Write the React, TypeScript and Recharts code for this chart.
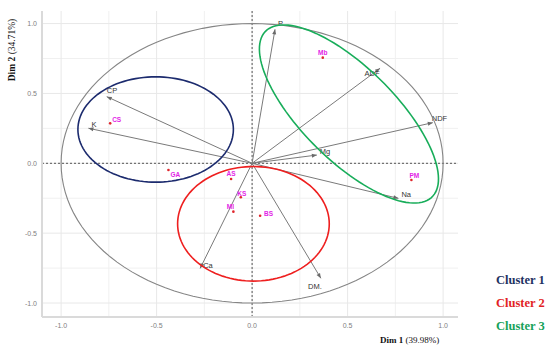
import React from "react";
import { ScatterChart, Scatter, XAxis, YAxis, ReferenceLine } from "recharts";

// variables (arrows)
const VAR_NAMES = ["P", "ADF", "NDF", "Mg", "Na", "DM.", "Ca", "CP", "K"];
const VAR_X = [0.12, 0.67, 0.946, 0.339, 0.766, 0.36, -0.272, -0.761, -0.857];
const VAR_Y = [0.959, 0.68, 0.291, 0.059, -0.251, -0.823, -0.752, 0.477, 0.251];

// individuals
const IND_NAMES = ["CS", "GA", "AS", "KS", "MI", "BS", "Mb", "PM"];
const IND_X = [-0.743, -0.438, -0.11, -0.059, -0.098, 0.042, 0.37, 0.834];
const IND_Y = [0.286, -0.048, -0.112, -0.243, -0.346, -0.375, 0.756, -0.12];

// cluster ellipses: centre and two semi-axis vectors
const CLUSTERS = ["Cluster 1", "Cluster 2", "Cluster 3"];
const CLUSTER_CX = [-0.505, 0.007, 0.507];
const CLUSTER_CY = [0.242, -0.433, 0.353];
const CLUSTER_AX = [0.407, 0.397, 0.4085];
const CLUSTER_AY = [0, 0, -0.619];
const CLUSTER_BX = [0, 0, 0.23];
const CLUSTER_BY = [0.377, 0.41, 0.152];

const MAJOR_TICKS = [-1, -0.5, 0, 0.5, 1];
const MINOR_TICKS = [-0.75, -0.25, 0.25, 0.75];

const CLUSTER_COLORS = ["#1c2b6e", "#ee1f1f", "#18ad5a"];
const LEGEND_COLORS = ["#1f3262", "#e21f26", "#17a25a"];

// label placement (px offsets from the mark)
const VAR_LABEL_POS: Record<string, [number, number, string]> = {
  P: [3, -6, "start"],
  ADF: [-8, 5, "middle"],
  NDF: [-1, -4, "start"],
  Mg: [3, -4, "start"],
  Na: [3, -4, "start"],
  "DM.": [-6, 8, "middle"],
  Ca: [3, -3, "start"],
  CP: [0, -6, "start"],
  K: [3, -4, "start"],
};
const IND_LABEL_POS: Record<string, [number, number, string]> = {
  CS: [2, -4, "start"],
  GA: [2, 4, "start"],
  AS: [0, -5, "middle"],
  KS: [1, -4, "middle"],
  MI: [-3, -5, "middle"],
  BS: [4, -2, "start"],
  Mb: [0, -5, "middle"],
  PM: [3, -5, "middle"],
};

const ellipse = (cx: number, cy: number, ax: number, ay: number, bx: number, by: number) => {
  const pts = [];
  for (let i = 0; i <= 120; i++) {
    const t = (i / 120) * Math.PI * 2;
    pts.push({ x: cx + ax * Math.cos(t) + bx * Math.sin(t), y: cy + ay * Math.cos(t) + by * Math.sin(t) });
  }
  return pts;
};

const circlePts = ellipse(0, 0, 1, 0, 0, 1);
const clusterPts = CLUSTERS.map((_, i) =>
  ellipse(CLUSTER_CX[i], CLUSTER_CY[i], CLUSTER_AX[i], CLUSTER_AY[i], CLUSTER_BX[i], CLUSTER_BY[i])
);
const indData = IND_NAMES.map((name, i) => ({ name, x: IND_X[i], y: IND_Y[i] }));

const Arrow = (props: any) => {
  const { x1, y1, x2, y2, name } = props;
  const ang = Math.atan2(y2 - y1, x2 - x1);
  const L = 5;
  const W = 2;
  const bx = x2 - L * Math.cos(ang);
  const by = y2 - L * Math.sin(ang);
  const head = `${x2},${y2} ${bx - W * Math.sin(ang)},${by + W * Math.cos(ang)} ${bx + W * Math.sin(ang)},${by - W * Math.cos(ang)}`;
  const [dx, dy, anchor] = VAR_LABEL_POS[name];
  return (
    <g>
      <line x1={x1} y1={y1} x2={x2} y2={y2} stroke="#7a7a7a" strokeWidth={1} />
      <polygon points={head} fill="#6a6a6a" />
      <text
        x={x2 + dx}
        y={y2 + dy}
        textAnchor={anchor as any}
        dominantBaseline="central"
        fontSize={7.5}
        fontFamily="Liberation Sans, Arial, sans-serif"
        fill="#333"
      >
        {name}
      </text>
    </g>
  );
};

const IndPoint = (props: any) => {
  const { cx, cy, payload } = props;
  const [dx, dy, anchor] = IND_LABEL_POS[payload.name];
  return (
    <g>
      <circle cx={cx} cy={cy} r={1.3} fill="#e0262c" />
      <text
        x={cx + dx}
        y={cy + dy}
        textAnchor={anchor as any}
        dominantBaseline="central"
        fontSize={6.5}
        fontWeight="bold"
        fontFamily="Liberation Sans, Arial, sans-serif"
        fill="#e21ee6"
      >
        {payload.name}
      </text>
    </g>
  );
};

const tickStyle = { fontSize: 7, fill: "#808080", fontFamily: "Liberation Sans, Arial, sans-serif" };

export default function App() {
  return (
    <div style={{ position: "absolute", left: 0, top: 0, width: 550, height: 349, background: "#fff" }}>
      <ScatterChart width={550} height={349} margin={{ top: 11, right: 92, bottom: 0, left: 0 }}>
        <XAxis
          type="number"
          dataKey="x"
          domain={[-1.1, 1.078]}
          ticks={MAJOR_TICKS}
          tickFormatter={(v: number) => v.toFixed(1)}
          allowDataOverflow
          height={32}
          tickLine={false}
          tickSize={4}
          axisLine={{ stroke: "#dadada", strokeWidth: 2 }}
          tick={tickStyle}
        />
        <YAxis
          type="number"
          dataKey="y"
          domain={[-1.1, 1.09]}
          ticks={MAJOR_TICKS}
          tickFormatter={(v: number) => v.toFixed(1)}
          allowDataOverflow
          width={42}
          tickLine={false}
          tickSize={3}
          axisLine={{ stroke: "#dadada", strokeWidth: 2 }}
          tick={tickStyle}
        />
        {MINOR_TICKS.map((v) => (
          <ReferenceLine key={"mx" + v} x={v} stroke="#f0f0f0" strokeWidth={1} />
        ))}
        {MINOR_TICKS.map((v) => (
          <ReferenceLine key={"my" + v} y={v} stroke="#f0f0f0" strokeWidth={1} />
        ))}
        {MAJOR_TICKS.map((v) => (
          <ReferenceLine key={"x" + v} x={v} stroke="#e8e8e8" strokeWidth={1} />
        ))}
        {MAJOR_TICKS.map((v) => (
          <ReferenceLine key={"y" + v} y={v} stroke="#e8e8e8" strokeWidth={1} />
        ))}
        <ReferenceLine x={0} stroke="#555" strokeDasharray="2 2" strokeWidth={1} />
        <ReferenceLine y={0} stroke="#555" strokeDasharray="2 2" strokeWidth={1} />
        <Scatter
          data={circlePts}
          line={{ stroke: "#858585", strokeWidth: 1.1 }}
          shape={() => <g />}
          isAnimationActive={false}
        />
        {clusterPts.map((pts, i) => (
          <Scatter
            key={CLUSTERS[i]}
            data={pts}
            line={{ stroke: CLUSTER_COLORS[i], strokeWidth: 1.6 }}
            shape={() => <g />}
            isAnimationActive={false}
          />
        ))}
        {VAR_NAMES.map((n, i) => (
          <ReferenceLine
            key={n}
            segment={[
              { x: 0, y: 0 },
              { x: VAR_X[i], y: VAR_Y[i] },
            ]}
            shape={(p: any) => <Arrow {...p} name={n} />}
          />
        ))}
        <Scatter data={indData} shape={IndPoint} isAnimationActive={false} />
      </ScatterChart>
      <svg
        width={550}
        height={349}
        style={{ position: "absolute", left: 0, top: 0, pointerEvents: "none" }}
      >
        <text x={380} y={343} fontSize={9} fontFamily="Liberation Serif, Times New Roman, serif" fill="#111">
          <tspan fontWeight="bold">Dim 1</tspan> (39.98%)
        </text>
        <text
          transform="translate(15,50) rotate(-90)"
          textAnchor="middle"
          fontSize={9.5}
          fontFamily="Liberation Serif, Times New Roman, serif"
          fill="#111"
        >
          <tspan fontWeight="bold">Dim 2</tspan> (34.71%)
        </text>
        {CLUSTERS.map((c, i) => (
          <text
            key={c}
            x={496}
            y={283.6 + i * 23.2}
            fontSize={12.5}
            fontWeight="bold"
            fontFamily="Liberation Serif, Times New Roman, serif"
            fill={LEGEND_COLORS[i]}
          >
            {c}
          </text>
        ))}
      </svg>
    </div>
  );
}
